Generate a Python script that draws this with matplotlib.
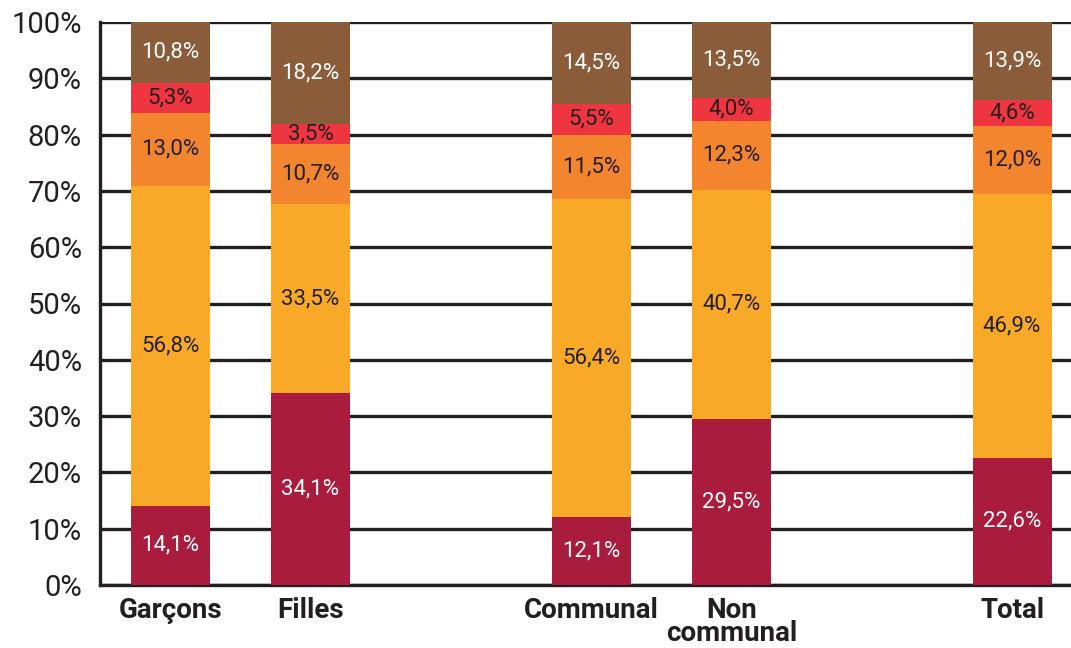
import matplotlib
matplotlib.use('Agg')
import matplotlib.pyplot as plt
import numpy as np

plt.rcParams['font.family'] = ['Roboto', 'DejaVu Sans']

# Data
categories = ['Garçons', 'Filles', 'Communal', 'Non\ncommunal', 'Total']
slots = [0, 1, 3, 4, 6]  # empty slots between groups
seg1 = [14.1, 34.1, 12.1, 29.5, 22.6]   # dark red
seg2 = [56.8, 33.5, 56.4, 40.7, 46.9]   # yellow
seg3 = [13.0, 10.7, 11.5, 12.3, 12.0]   # orange
seg4 = [5.3, 3.5, 5.5, 4.0, 4.6]        # red
seg5 = [10.8, 18.2, 14.5, 13.5, 13.9]   # brown

series = [seg1, seg2, seg3, seg4, seg5]
colors = ['#AA1C3D', '#F9A928', '#F2852E', '#EE3540', '#8A5C3A']
text_colors = ['white', '#231F20', '#231F20', '#231F20', 'white']

ink = '#231F20'

fig = plt.figure(figsize=(10.71, 6.48), dpi=100)
ax = fig.add_axes([100 / 1071, 1 - 585 / 648, 971 / 1071, 563 / 648])

bottom = np.zeros(len(categories))
for vals, col, tc in zip(series, colors, text_colors):
    vals = np.array(vals)
    ax.bar(slots, vals, bottom=bottom, width=0.5625, color=col, zorder=3)
    for x, v, b in zip(slots, vals, bottom):
        ax.text(x, b + v / 2, f'{v:.1f}%'.replace('.', ','), ha='center', va='center',
                color=tc, fontsize=16, zorder=4)
    bottom += vals

ax.set_xlim(-0.5, 6.42)
ax.set_ylim(0, 100)
ax.set_yticks(np.arange(0, 101, 10))
ax.set_yticklabels([f'{v}%' for v in range(0, 101, 10)], fontsize=21, color=ink)
ax.set_xticks(slots)
ax.set_xticklabels(categories, fontsize=20, fontweight='bold', color=ink,
                   linespacing=0.78, va='top')
ax.tick_params(axis='both', length=0)
ax.tick_params(axis='y', pad=13)
ax.tick_params(axis='x', pad=9)

ax.yaxis.grid(True, color=ink, linewidth=2.4, zorder=1)
ax.set_axisbelow(True)
for s in ['top', 'right']:
    ax.spines[s].set_visible(False)
for s in ['left', 'bottom']:
    ax.spines[s].set_color(ink)
    ax.spines[s].set_linewidth(2.4)
    ax.spines[s].set_zorder(2)

fig.savefig('out.png', dpi=100)
